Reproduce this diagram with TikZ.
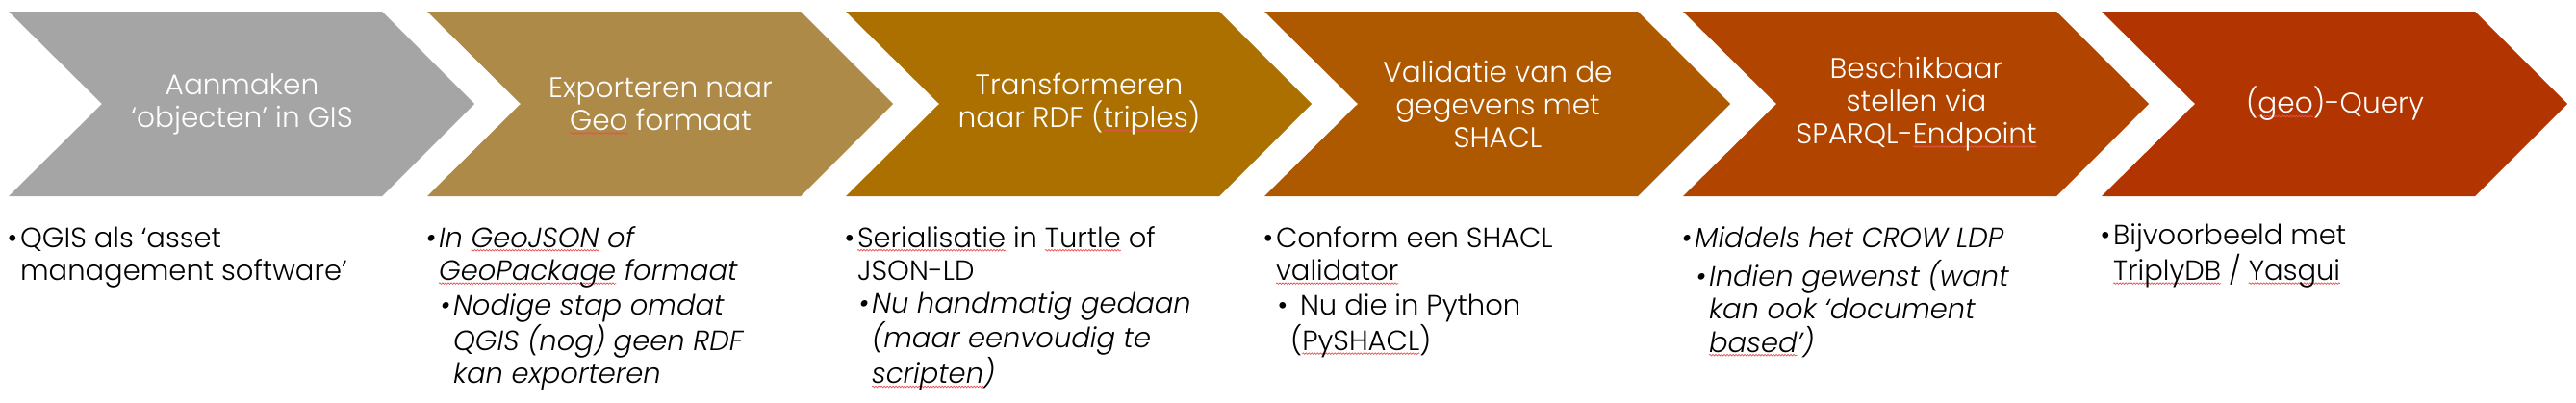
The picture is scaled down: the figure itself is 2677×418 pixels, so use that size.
\documentclass[tikz,border=0pt]{standalone}
\usepackage{fontspec}
\setmainfont{Poppins}[UprightFont=* Light, ItalicFont=* Light Italic]
\usetikzlibrary{decorations.pathmorphing}

\definecolor{stepA}{HTML}{A5A5A5}
\definecolor{stepB}{HTML}{AE8A48}
\definecolor{stepC}{HTML}{AB7000}
\definecolor{stepD}{HTML}{AE5800}
\definecolor{stepE}{HTML}{B14500}
\definecolor{stepF}{HTML}{B23400}
\definecolor{spell}{HTML}{E85050}

\newlength\sqwlen
\newcommand\sqw[1]{\settowidth\sqwlen{#1}\rlap{\tikz[overlay]\draw[spell,line width=0.35pt,decorate,decoration={snake,amplitude=0.4pt,segment length=1.5pt}] (0pt,-1.6pt) -- (\sqwlen,-1.6pt);}#1}
\newcommand\itm{\llap{\makebox[6.7pt][l]{•}}}

\begin{document}
\begin{tikzpicture}[x=0.5pt,y=-0.5pt,
  steptext/.style={text=white,align=center,font=\fontsize{14.8}{17}\selectfont},
  note/.style={anchor=base west,align=left,inner sep=0pt,font=\fontsize{14.5}{17.2}\selectfont},
  noteit/.style={note,font=\fontsize{14.5}{17.2}\selectfont\itshape}]
\useasboundingbox (0,0) rectangle (2677,418);
% chevrons:
\path[fill=stepA] (9,12) -- (397,12) -- (493,108) -- (397,204) -- (9,204) -- (106,108) -- cycle;
\path[fill=stepB] (444,12) -- (832,12) -- (928,108) -- (832,204) -- (444,204) -- (541,108) -- cycle;
\path[fill=stepC] (879,12) -- (1267,12) -- (1363,108) -- (1267,204) -- (879,204) -- (976,108) -- cycle;
\path[fill=stepD] (1314,12) -- (1702,12) -- (1798,108) -- (1702,204) -- (1314,204) -- (1411,108) -- cycle;
\path[fill=stepE] (1749,12) -- (2137,12) -- (2233,108) -- (2137,204) -- (1749,204) -- (1846,108) -- cycle;
\path[fill=stepF] (2184,12) -- (2572,12) -- (2668,108) -- (2572,204) -- (2184,204) -- (2281,108) -- cycle;
% step titles:
\node[steptext] (aanmaken) at (251.5,108) {Aanmaken\\‘objecten’ in GIS};
\node[steptext] (exporteren) at (686.5,108) {Exporteren naar\\\sqw{Geo} formaat};
\node[steptext] (transformeren) at (1121.5,108) {Transformeren\\naar RDF (\sqw{triples})};
\node[steptext] (validatie) at (1556.5,108) {Validatie van de\\gegevens met\\SHACL};
\node[steptext] (beschikbaar) at (1991.5,108) {Beschikbaar\\stellen via\\SPARQL-\sqw{Endpoint}};
\node[steptext] (query) at (2426.5,108) {(\sqw{geo})-Query};
% notes below (anchored at the baseline of their last line):
\node[note] (noteA) at (20.7,291.4) {\itm QGIS als ‘asset\\management software’};
\node[noteit] (noteB) at (455.7,291.4) {\itm In \sqw{GeoJSON} of\\\sqw{GeoPackage} formaat};
\node[noteit] (noteBsub) at (470.7,398.8) {\itm Nodige stap omdat\\QGIS (nog) geen RDF\\kan exporteren};
\node[note] (noteC) at (890.7,291.4) {\itm \sqw{Serialisatie} in \sqw{Turtle} of\\JSON-LD};
\node[noteit] (noteCsub) at (905.7,398.8) {\itm Nu handmatig gedaan\\(maar eenvoudig te\\\sqw{scripten})};
\node[note] (noteD) at (1325.7,291.4) {\itm Conform een SHACL\\\sqw{validator}};
\node[note] (noteDsub) at (1340.7,364.4) {\itm\hspace{5pt}Nu die in Python\\(\sqw{PySHACL})};
\node[noteit] (noteE) at (1760.7,257) {\itm Middels het CROW LDP};
\node[noteit] (noteEsub) at (1775.7,366) {\itm Indien gewenst (want\\kan ook ‘document\\\sqw{based}’)};
\node[note] (noteF) at (2195.7,291.4) {\itm Bijvoorbeeld met\\\sqw{TriplyDB} / \sqw{Yasgui}};
\end{tikzpicture}
\end{document}
